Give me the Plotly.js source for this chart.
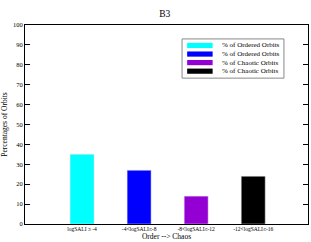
<!DOCTYPE html>
<html>
<head>
<meta charset="utf-8">
<script src="https://cdn.plot.ly/plotly-3.0.1.min.js"></script>
<style>html,body{margin:0;padding:0;background:#fff;}#chart{width:311px;height:242px;}</style>
</head>
<body>
<div id="chart"></div>
<script>
var categories = ["logSALI ≥ -4", "-4<logSALI≤-8", "-8<logSALI≤-12", "-12<logSALI≤-16"];
var values = [35, 27, 14, 24];
var seriesNames = ["% of Ordered Orbits", "% of Ordered Orbits", "% of Chaotic Orbits", "% of Chaotic Orbits"];
var colors = ["#00FFFF", "#0000FF", "#9400D3", "#000000"];
var yTicks = [0, 10, 20, 30, 40, 50, 60, 70, 80, 90, 100];

var font = "Liberation Serif";
var traces = categories.map(function (c, i) {
  return {
    type: "bar",
    x: [i],
    y: [values[i]],
    width: 0.42,
    name: seriesNames[i],
    marker: { color: colors[i], line: { color: "#e0e0e0", width: 0.5 } },
    showlegend: false,
    hoverinfo: "none"
  };
});

// manual legend (swatch + label) in paper coordinates
var shapes = [], annotations = [];
var lx0 = 0.555, lx1 = 0.915, ly1 = 0.93, rowH = 0.043, ly0 = ly1 - rowH * seriesNames.length - 0.025;
shapes.push({ type: "rect", xref: "paper", yref: "paper", x0: lx0, x1: lx1, y0: ly0, y1: ly1,
  line: { color: "#888", width: 1 }, fillcolor: "#fff" });
seriesNames.forEach(function (n, i) {
  var yc = ly1 - 0.033 - i * rowH;
  shapes.push({ type: "rect", xref: "paper", yref: "paper", x0: lx0 + 0.018, x1: lx0 + 0.108,
    y0: yc - 0.013, y1: yc + 0.013, line: { width: 0 }, fillcolor: colors[i] });
  annotations.push({ xref: "paper", yref: "paper", x: lx0 + 0.135, y: yc, xanchor: "left", yanchor: "middle",
    text: n, showarrow: false, font: { family: font, size: 7, color: "#000" } });
});

var layout = {
  width: 311, height: 242,
  margin: { l: 25, r: 3, t: 25, b: 18 },
  paper_bgcolor: "#fff", plot_bgcolor: "#fff",
  title: { text: "B3", font: { family: font, size: 9.5, color: "#000" }, x: 0.53, xanchor: "center", y: 0.945, yanchor: "middle" },
  showlegend: false,
  xaxis: {
    range: [-1, 3.96], tickmode: "array", tickvals: [0, 1, 2, 3], ticktext: categories,
    ticks: "", showgrid: false, zeroline: false, showline: true, linecolor: "#000", linewidth: 1, mirror: true,
    tickfont: { family: font, size: 5.5, color: "#000" }, ticklen: 0, ticklabelstandoff: -1,
    title: { text: "Order --> Chaos", font: { family: font, size: 7.5, color: "#000" }, standoff: 3 },
    automargin: false
  },
  yaxis: {
    range: [0, 100], tickmode: "array", tickvals: yTicks,
    ticks: "inside", ticklen: 5, tickcolor: "#000", tickwidth: 1,
    showgrid: false, zeroline: false, showline: true, linecolor: "#000", linewidth: 1, mirror: "allticks",
    tickfont: { family: font, size: 6.5, color: "#000" },
    title: { text: "Percentages of Orbits", font: { family: font, size: 7.5, color: "#000" }, standoff: 4 },
    automargin: false
  },
  shapes: shapes,
  annotations: annotations,
  bargap: 0
};

Plotly.newPlot("chart", traces, layout, { displayModeBar: false, staticPlot: true });
</script>
</body>
</html>
